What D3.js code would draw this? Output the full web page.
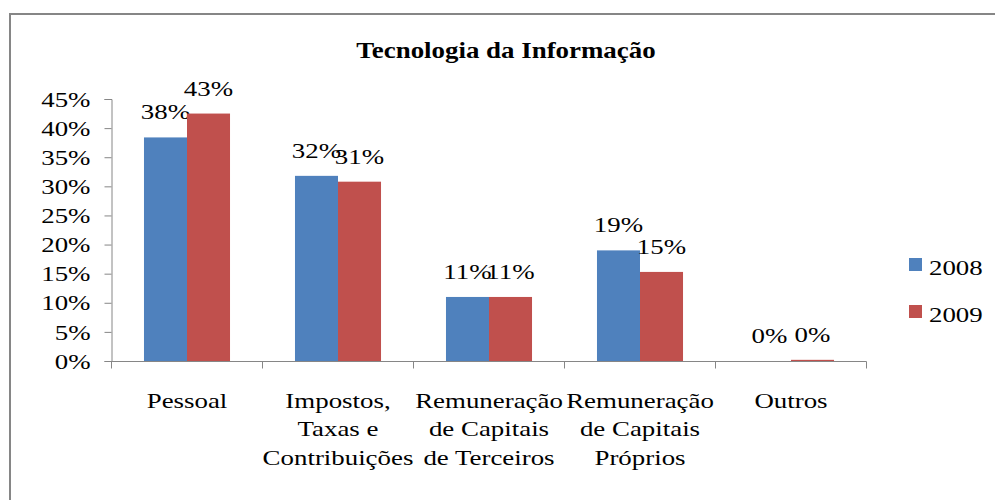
<!DOCTYPE html>
<html>
<head>
<meta charset="utf-8">
<script src="https://cdn.jsdelivr.net/npm/d3@7"></script>
<style>
  body { margin: 0; background: #fff; }
</style>
</head>
<body>
<script>
// data
var categories = [
  ["Pessoal"],
  ["Impostos,", "Taxas e", "Contribuições"],
  ["Remuneração", "de Capitais", "de Terceiros"],
  ["Remuneração", "de Capitais", "Próprios"],
  ["Outros"]
];
var seriesNames = ["2008", "2009"];
var values2008 = [0.384, 0.318, 0.110, 0.190, 0.000];
var values2009 = [0.425, 0.308, 0.110, 0.153, 0.002];
var labels2008 = ["38%", "32%", "11%", "19%", "0%"];
var labels2009 = ["43%", "31%", "11%", "15%", "0%"];
var yTicks = [0, 0.05, 0.10, 0.15, 0.20, 0.25, 0.30, 0.35, 0.40, 0.45];
var colors = ["#4F81BD", "#C0504D"];

var FONT = "'Times New Roman', 'Liberation Serif', serif";
var SX = 1.28; // the source picture is stretched sideways

var W = 995, H = 500;
var svg = d3.select("body").append("svg").attr("width", W).attr("height", H)
  .attr("font-family", FONT);

// scale a text sideways around its own x
function stretch(sel, sx){
  sel.attr("transform", function(){
    var x = +d3.select(this).attr("x") || 0;
    return "translate(" + (x * (1 - sx)) + ",0) scale(" + sx + ",1)";
  });
}

// chart frame (runs off the right and bottom edge)
svg.append("rect")
  .attr("x", 10).attr("y", 14)
  .attr("width", 1000).attr("height", 520)
  .attr("fill", "#fff")
  .attr("stroke", "#868686").attr("stroke-width", 2);

var title = svg.append("text")
  .attr("x", 506).attr("y", 58)
  .attr("text-anchor", "middle")
  .style("font-family", FONT)
  .style("font-size", "23px").style("font-weight", "bold")
  .text("Tecnologia da Informação");
stretch(title, 1.17);

var x0 = d3.scaleBand().domain(d3.range(categories.length)).range([111.5, 866.5]);
var x1 = d3.scaleBand().domain([0, 1]).range([0, x0.bandwidth()]).paddingOuter(0.755);
var y = d3.scaleLinear().domain([0, 0.45]).range([361, 99]);

var g = svg.append("g");

// y axis
var yAxis = g.append("g")
  .attr("transform", "translate(111.5,0)")
  .call(d3.axisLeft(y).tickValues(yTicks).tickSize(7).tickPadding(14)
    .tickFormat(function(d){ return Math.round(d * 100) + "%"; }));
yAxis.attr("font-family", null).attr("font-size", null);
yAxis.selectAll("text")
  .style("font-family", FONT).style("font-size", "21px")
  .attr("fill", "#000").attr("dy", "0.34em");
stretch(yAxis.selectAll("text"), SX);
yAxis.select(".domain").attr("stroke", "#868686");
yAxis.selectAll(".tick line").attr("stroke", "#868686");

// x axis
var xAxis = g.append("g").attr("transform", "translate(0,361.5)");
xAxis.append("line")
  .attr("x1", 111.5).attr("x2", 866.5)
  .attr("stroke", "#868686");
xAxis.selectAll(".xt")
  .data(d3.range(categories.length + 1))
  .enter().append("line")
  .attr("class", "xt")
  .attr("x1", function(d){ return d < categories.length ? x0(d) : x0.range()[1]; })
  .attr("x2", function(d){ return d < categories.length ? x0(d) : x0.range()[1]; })
  .attr("y1", 0).attr("y2", 7)
  .attr("stroke", "#868686");

// category labels
categories.forEach(function(lines, i){
  var cx = x0(i) + x0.bandwidth() / 2;
  var t = g.append("text")
    .attr("x", cx)
    .attr("text-anchor", "middle")
    .style("font-family", FONT)
    .style("font-size", "21px");
  lines.forEach(function(l, k){
    t.append("tspan")
      .attr("x", cx)
      .attr("y", 408 + k * 28.5)
      .text(l);
  });
  stretch(t, SX);
});

// bars
var allValues = [values2008, values2009];
var allLabels = [labels2008, labels2009];
allValues.forEach(function(vals, s){
  g.selectAll(".bar-" + s)
    .data(vals)
    .enter().append("rect")
    .attr("class", "bar-" + s)
    .attr("x", function(d, i){ return x0(i) + x1(s); })
    .attr("y", function(d){ return y(d); })
    .attr("width", x1.bandwidth())
    .attr("height", function(d){ return y(0) - y(d); })
    .attr("fill", colors[s]);

  var lbl = g.selectAll(".lbl-" + s)
    .data(vals)
    .enter().append("text")
    .attr("class", "lbl-" + s)
    .attr("text-anchor", "middle")
    .style("font-family", FONT)
    .style("font-size", "21px")
    .attr("x", function(d, i){ return x0(i) + x1(s) + x1.bandwidth() / 2; })
    .attr("y", function(d){ return y(d) - 18; })
    .text(function(d, i){ return allLabels[s][i]; });
  stretch(lbl, SX);
});

// legend
var legend = svg.append("g");
seriesNames.forEach(function(name, s){
  legend.append("rect")
    .attr("x", 909).attr("y", 258 + s * 47)
    .attr("width", 13).attr("height", 13)
    .attr("fill", colors[s]);
  var lt = legend.append("text")
    .attr("x", 929).attr("y", 275 + s * 47)
    .style("font-family", FONT)
    .style("font-size", "21px")
    .text(name);
  stretch(lt, SX);
});
</script>
</body>
</html>
